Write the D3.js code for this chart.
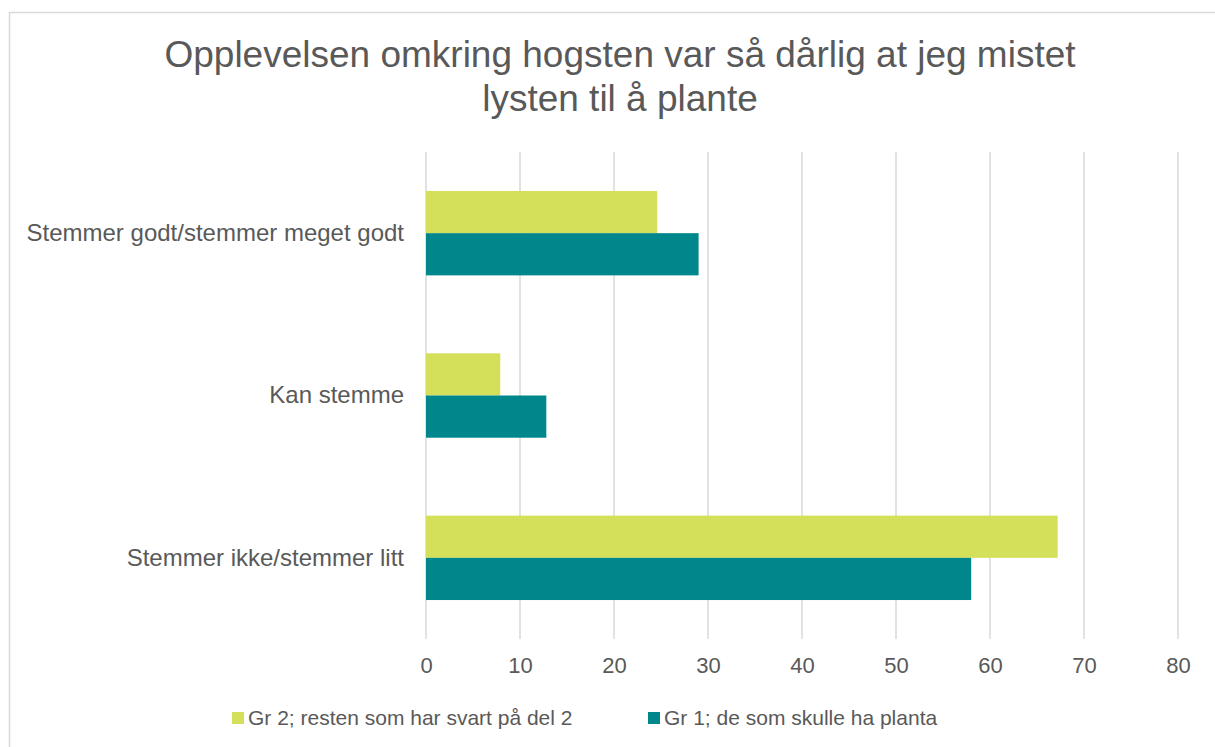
<!DOCTYPE html>
<html>
<head>
<meta charset="utf-8">
<script src="https://cdn.jsdelivr.net/npm/d3@7"></script>
<style>
  body { margin: 0; background: #fff; }
  text { font-family: "Liberation Sans", Arial, sans-serif; fill: #595959; }
</style>
</head>
<body>
<div id="chart"></div>
<script>
// Data
const categories = ["Stemmer godt/stemmer meget godt", "Kan stemme", "Stemmer ikke/stemmer litt"]
const seriesNames = ["Gr 2; resten som har svart på del 2", "Gr 1; de som skulle ha planta"]
const gr2Values = [24.6, 7.9, 67.2]
const gr1Values = [29.0, 12.8, 58.0]
const xTicks = [0, 10, 20, 30, 40, 50, 60, 70, 80]
const titleLines = ["Opplevelsen omkring hogsten var så dårlig at jeg mistet", "lysten til å plante"]
const colors = ["#d4df5a", "#00878b"]

// Dimensions
const width = 1215
const height = 747
const plotLeft = 426
const plotRight = 1178
const plotTop = 152
const plotBottom = 639

const svg = d3.select("#chart")
  .append("svg")
    .attr("width", width)
    .attr("height", height)

// chart border (only top and left visible)
svg.append("rect")
  .attr("x", 9.5)
  .attr("y", 12.5)
  .attr("width", 1300)
  .attr("height", 800)
  .attr("fill", "none")
  .attr("stroke", "#d9d9d9")
  .attr("stroke-width", 1.5)

svg.selectAll(".title-line")
  .data(titleLines)
  .enter().append("text")
  .attr("class", "title-line")
  .attr("x", 620)
  .attr("y", function(d, i) { return 67 + i * 44 })
  .attr("text-anchor", "middle")
  .style("font-size", "37px")
  .text(function(d) { return d })

const x = d3.scaleLinear().domain([0, 80]).range([plotLeft, plotRight])
const y = d3.scaleBand().domain(categories).range([plotTop, plotBottom]).paddingInner(0.48).paddingOuter(0.24)
const ySub = d3.scaleBand().domain([0, 1]).range([0, y.bandwidth()])

// gridlines
svg.append("g")
  .selectAll("line")
  .data(xTicks)
  .enter().append("line")
  .attr("x1", function(d) { return x(d) })
  .attr("x2", function(d) { return x(d) })
  .attr("y1", plotTop)
  .attr("y2", plotBottom)
  .attr("stroke", "#d9d9d9")
  .attr("stroke-width", 1.5)

// x axis labels
const xAxis = svg.append("g")
  .attr("transform", "translate(0," + plotBottom + ")")
  .call(d3.axisBottom(x).tickValues(xTicks).tickSize(0).tickPadding(18))
xAxis.select(".domain").remove()
xAxis.selectAll("text")
  .style("font-size", "22px")
  .style("font-family", "'Liberation Sans', Arial, sans-serif")
  .attr("fill", "#595959")

// y axis labels
const yAxis = svg.append("g")
  .attr("transform", "translate(" + (plotLeft - 22) + ",0)")
  .call(d3.axisLeft(y).tickSize(0).tickPadding(0))
yAxis.select(".domain").remove()
yAxis.selectAll("text")
  .style("font-size", "24px")
  .style("font-family", "'Liberation Sans', Arial, sans-serif")
  .attr("fill", "#595959")

// bars
const rows = categories.map(function(c, i) { return {cat: c, values: [gr2Values[i], gr1Values[i]]} })
const groups = svg.selectAll(".bar-group")
  .data(rows)
  .enter().append("g")
  .attr("class", "bar-group")
  .attr("transform", function(d) { return "translate(0," + y(d.cat) + ")" })

groups.selectAll("rect")
  .data(function(d) { return d.values.map(function(v, j) { return {v: v, s: j} }) })
  .enter().append("rect")
  .attr("x", x(0))
  .attr("y", function(d) { return ySub(d.s) })
  .attr("width", function(d) { return x(d.v) - x(0) })
  .attr("height", ySub.bandwidth())
  .attr("fill", function(d) { return colors[d.s] })

// legend
const legendX = [232, 648]
const legend = svg.selectAll(".legend-item")
  .data(seriesNames)
  .enter().append("g")
  .attr("class", "legend-item")
  .attr("transform", function(d, i) { return "translate(" + legendX[i] + ",718)" })
legend.append("rect")
  .attr("x", 0)
  .attr("y", -6)
  .attr("width", 12)
  .attr("height", 12)
  .attr("fill", function(d, i) { return colors[i] })
legend.append("text")
  .attr("x", 16)
  .attr("y", 0)
  .attr("dy", "0.35em")
  .style("font-size", "21px")
  .text(function(d) { return d })
</script>
</body>
</html>
